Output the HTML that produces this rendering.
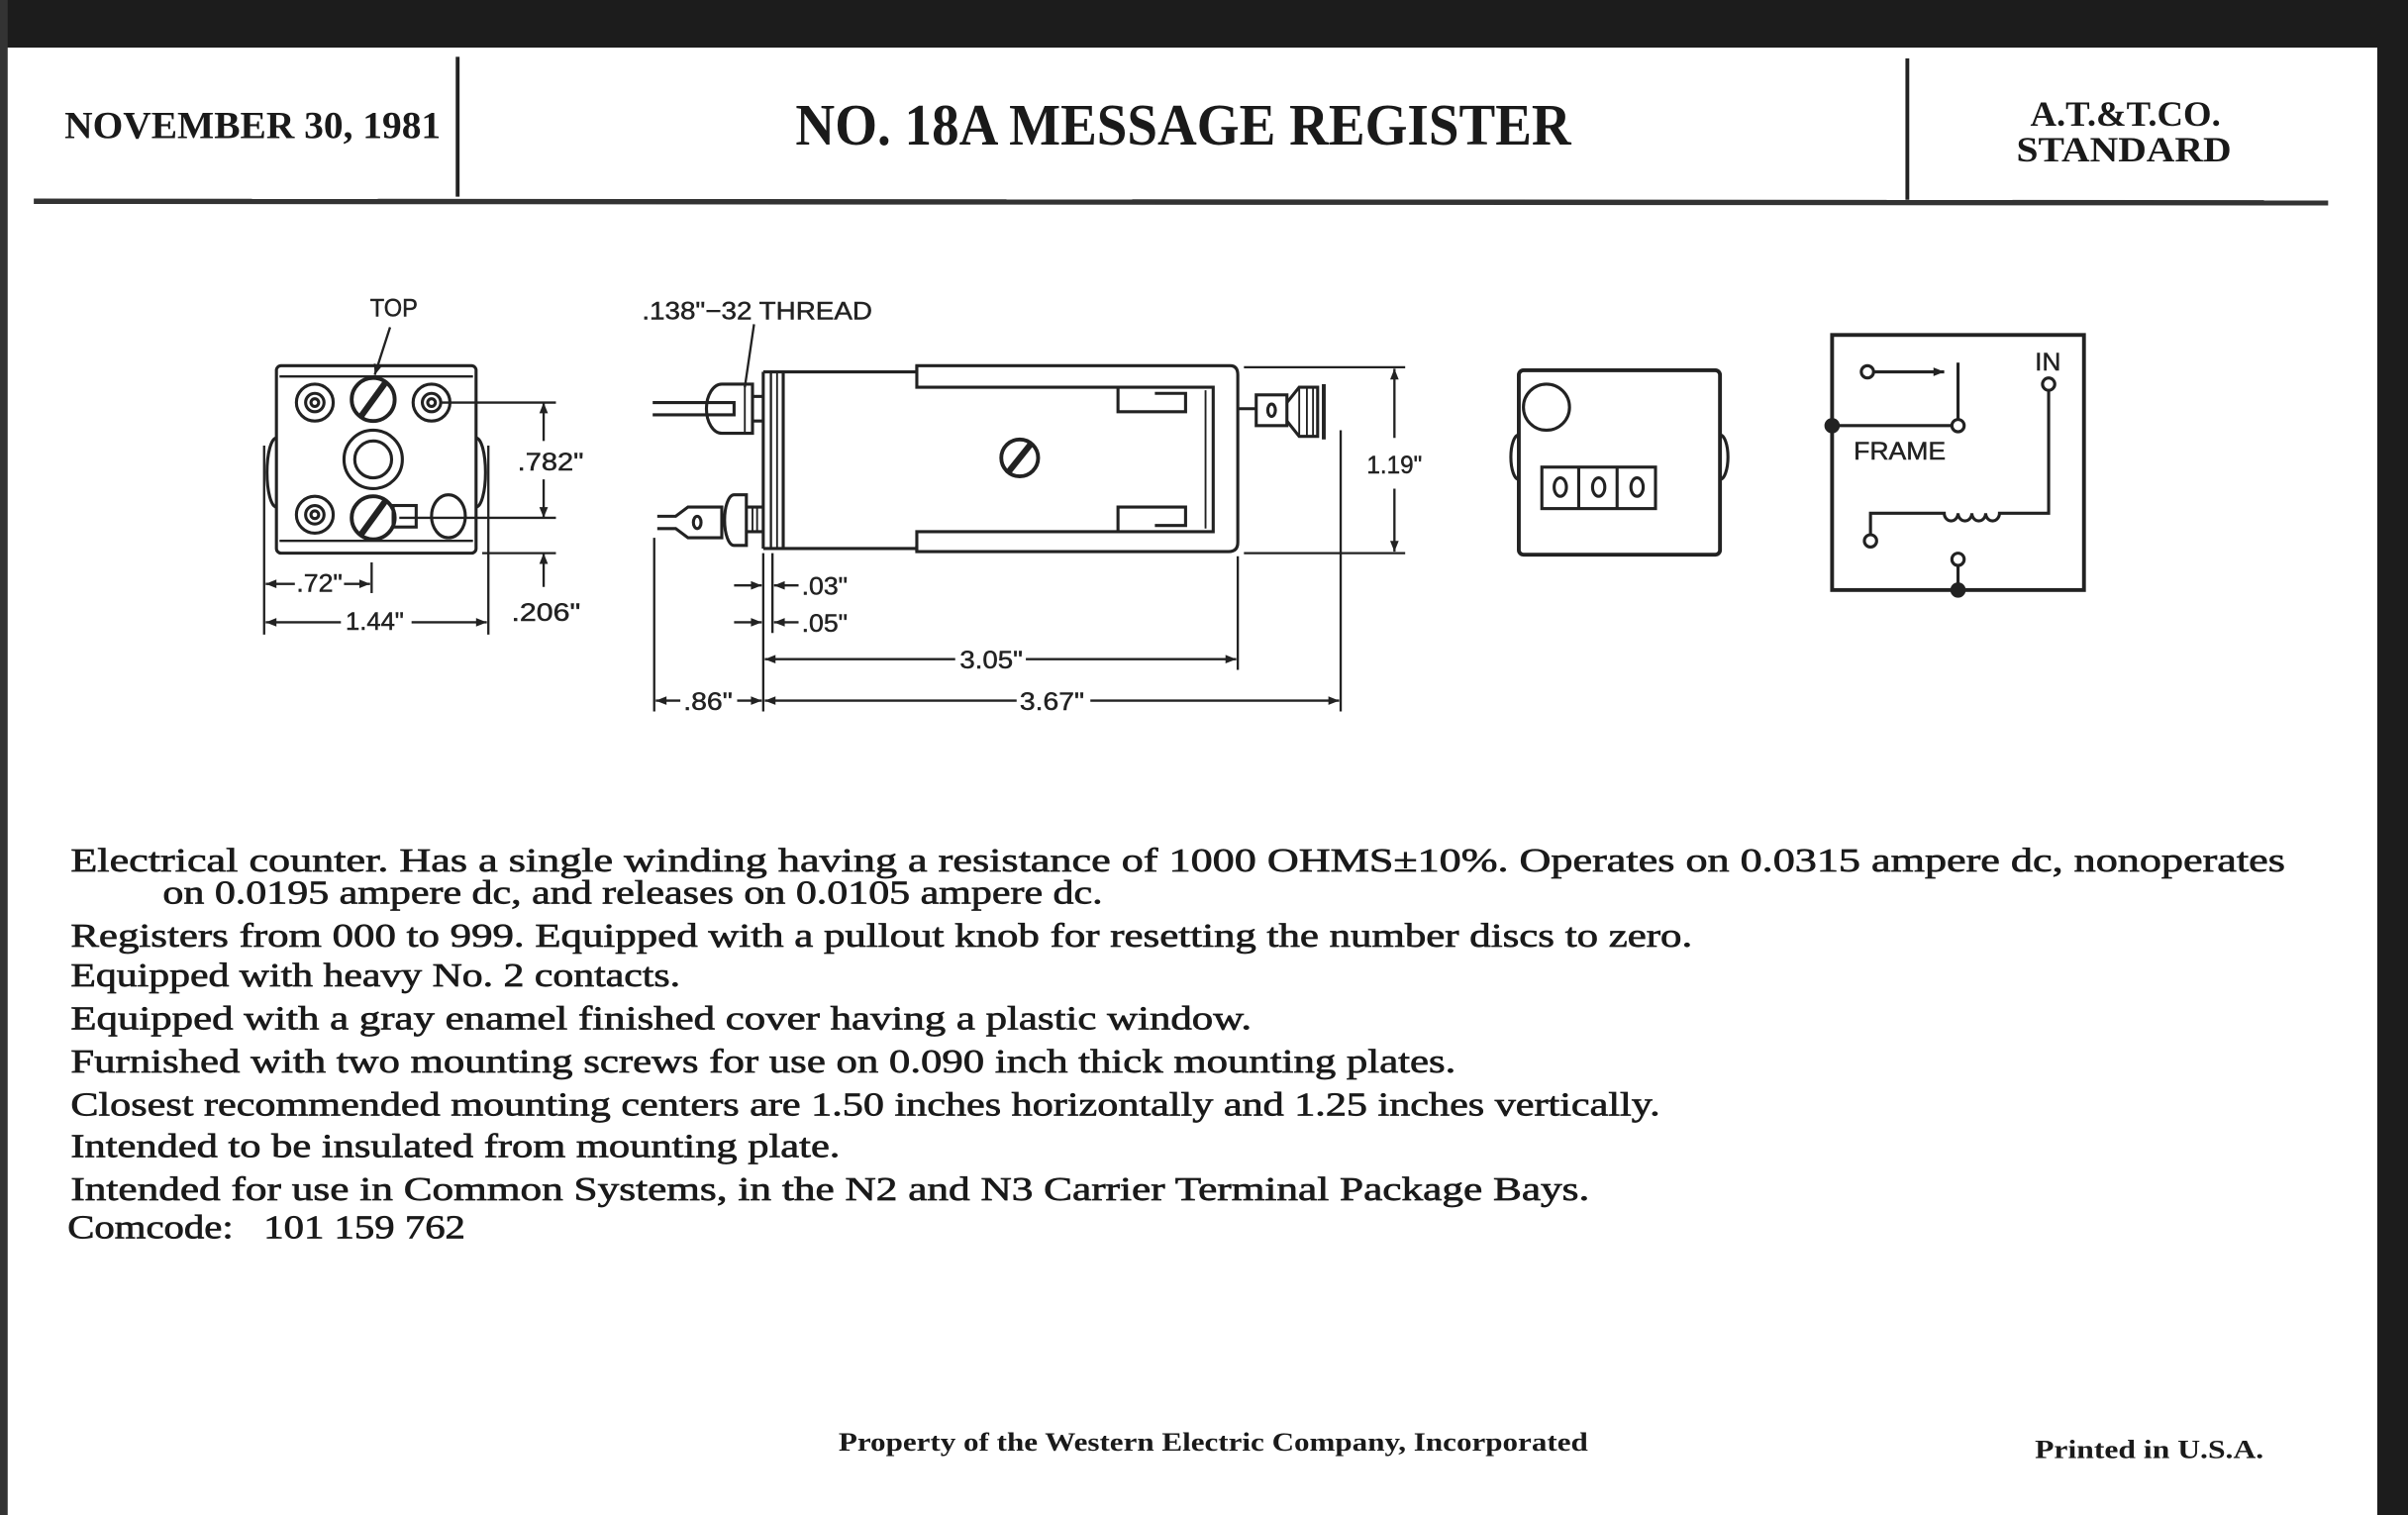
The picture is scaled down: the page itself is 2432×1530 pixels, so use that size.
<!DOCTYPE html>
<html><head><meta charset="utf-8"><style>
html,body{margin:0;padding:0;background:#fff;width:2432px;height:1530px;overflow:hidden}
svg{display:block}
.s{font-family:"Liberation Serif",serif;fill:#1a1a1a}
.b{stroke:#1a1a1a;stroke-width:0.45}
.d{font-family:"Liberation Sans",sans-serif;fill:#222;font-size:16px}
</style></head><body>
<svg width="2432" height="1530" viewBox="0 0 1568 986" preserveAspectRatio="none" xmlns="http://www.w3.org/2000/svg">
<defs>
<marker id="a" viewBox="0 0 10 10" refX="10" refY="5" markerWidth="9" markerHeight="7" orient="auto-start-reverse" markerUnits="userSpaceOnUse"><path d="M0,1 L10,5 L0,9z" fill="#222"/></marker>
</defs>
<rect width="1568" height="986" fill="#fff"/>
<rect x="0" y="0" width="1568" height="31" fill="#1c1c1c"/>
<rect x="1548" y="0" width="20" height="986" fill="#1c1c1c"/>
<rect x="0" y="0" width="5" height="986" fill="#333"/>

<text class="s" x="42" y="90" font-size="25" font-weight="bold" textLength="245" lengthAdjust="spacingAndGlyphs">NOVEMBER 30, 1981</text>
<line x1="298" y1="37" x2="298" y2="128" stroke="#222" stroke-width="2.5"/>
<text class="s" x="518" y="94" font-size="38" font-weight="bold" textLength="505" lengthAdjust="spacingAndGlyphs">NO. 18A MESSAGE REGISTER</text>
<line x1="1242" y1="38" x2="1242" y2="130" stroke="#222" stroke-width="2.5"/>
<text class="s" x="1322" y="82" font-size="23" font-weight="bold" textLength="124" lengthAdjust="spacingAndGlyphs">A.T.&amp;T.CO.</text>
<text class="s" x="1313" y="105" font-size="23" font-weight="bold" textLength="140" lengthAdjust="spacingAndGlyphs">STANDARD</text>
<line x1="22" y1="131" x2="1516" y2="132" stroke="#333" stroke-width="3.5"/>

<g stroke="#222" stroke-width="2" fill="none">
<rect x="180" y="238" width="130" height="122" rx="3"/>
<line x1="182" y1="245" x2="308" y2="245" stroke-width="1.5"/>
<line x1="182" y1="352" x2="308" y2="352" stroke-width="1.5"/>
<path d="M180,285 A6,22 0 0 0 180,330"/>
<path d="M310,285 A6,22 0 0 1 310,330"/>
<circle cx="205" cy="262" r="12"/><circle cx="205" cy="262" r="6"/><circle cx="205" cy="262" r="2.5"/>
<circle cx="281" cy="262" r="12"/><circle cx="281" cy="262" r="6"/><circle cx="281" cy="262" r="2.5"/>
<circle cx="205" cy="335" r="12"/><circle cx="205" cy="335" r="6"/><circle cx="205" cy="335" r="2.5"/>
<circle cx="243" cy="260" r="14" stroke-width="2.5"/><line x1="235" y1="271" x2="251" y2="249" stroke-width="4"/>
<circle cx="243" cy="299" r="19"/><circle cx="243" cy="299" r="12"/>
<rect x="256" y="329" width="15" height="14"/>
<circle cx="243" cy="337" r="14" stroke-width="2.5"/><line x1="235" y1="348" x2="251" y2="326" stroke-width="4"/>
<ellipse cx="292" cy="336" rx="11" ry="14"/>
<line x1="254" y1="213" x2="244" y2="244" marker-end="url(#a)" stroke-width="1.5"/>
<line x1="287" y1="262" x2="362" y2="262" stroke-width="1.5"/>
<line x1="260" y1="337" x2="362" y2="337" stroke-width="1.5"/>
<line x1="314" y1="360" x2="362" y2="360" stroke-width="1.5"/>
<line x1="354" y1="287" x2="354" y2="262" marker-end="url(#a)" stroke-width="1.5"/>
<line x1="354" y1="312" x2="354" y2="337" marker-end="url(#a)" stroke-width="1.5"/>
<line x1="354" y1="382" x2="354" y2="360" marker-end="url(#a)" stroke-width="1.5"/>
<line x1="172" y1="290" x2="172" y2="413" stroke-width="1.5"/>
<line x1="318" y1="290" x2="318" y2="413" stroke-width="1.5"/>
<line x1="242" y1="366" x2="242" y2="386" stroke-width="1.5"/>
<line x1="192" y1="380" x2="173" y2="380" marker-end="url(#a)" stroke-width="1.5"/>
<line x1="224" y1="380" x2="241" y2="380" marker-end="url(#a)" stroke-width="1.5"/>
<line x1="222" y1="405" x2="173" y2="405" marker-end="url(#a)" stroke-width="1.5"/>
<line x1="268" y1="405" x2="317" y2="405" marker-end="url(#a)" stroke-width="1.5"/>

<line x1="491" y1="211" x2="485" y2="252" stroke-width="1.5"/>
<line x1="497" y1="242" x2="497" y2="357"/><line x1="502" y1="242" x2="502" y2="357" stroke-width="1.5"/><line x1="506" y1="242" x2="506" y2="357" stroke-width="1.2"/><line x1="510" y1="242" x2="510" y2="357"/>
<line x1="497" y1="242" x2="597" y2="242"/><line x1="497" y1="357" x2="597" y2="357"/>
<path d="M597,242 V238 H801 Q806,238 806,244 V353 Q806,359 800,359 H597 V355"/>
<path d="M597,238 V252 H790 V346 H597 V359"/>
<path d="M728,252 V268 H772 V256 H752"/>
<path d="M728,346 V330 H772 V342 H752"/>
<line x1="785" y1="254" x2="785" y2="344" stroke-width="1.2"/>
<circle cx="664" cy="298" r="12" stroke-width="2.5"/><line x1="656" y1="308" x2="672" y2="288" stroke-width="4"/>
<line x1="806" y1="266" x2="818" y2="266"/>
<rect x="818" y="257" width="20" height="20"/><ellipse cx="828" cy="267" rx="2.5" ry="4"/>
<path d="M838,262 L846,252 H858 V284 H846 L838,274"/>
<line x1="846" y1="252" x2="846" y2="284" stroke-width="1.2"/><line x1="851" y1="252" x2="851" y2="284" stroke-width="1.2"/><line x1="855" y1="252" x2="855" y2="284" stroke-width="1.2"/>
<line x1="862" y1="250" x2="862" y2="286" stroke-width="2.5"/>
<path d="M425,262 H478 V270 H425"/>
<path d="M470,250 A10,16 0 0 0 470,282 H490 V250 Z"/>
<line x1="485" y1="250" x2="485" y2="282" stroke-width="1.2"/>
<line x1="490" y1="258" x2="497" y2="258"/><line x1="490" y1="274" x2="497" y2="274"/>
<path d="M428,336 H440 L448,330 H470 V350 H448 L440,344 H428"/>
<ellipse cx="454" cy="340" rx="2.5" ry="4"/>
<path d="M478,322 A6,16 0 0 0 478,355 H486 V322 Z"/>
<path d="M486,330 H497 M486,346 H497"/><line x1="490" y1="330" x2="490" y2="346" stroke-width="1.2"/><line x1="493" y1="330" x2="493" y2="346" stroke-width="1.2"/>
<line x1="810" y1="239" x2="915" y2="239" stroke-width="1.5"/>
<line x1="810" y1="360" x2="915" y2="360" stroke-width="1.5"/>
<line x1="908" y1="285" x2="908" y2="240" marker-end="url(#a)" stroke-width="1.5"/>
<line x1="908" y1="318" x2="908" y2="359" marker-end="url(#a)" stroke-width="1.5"/>
<line x1="426" y1="350" x2="426" y2="463" stroke-width="1.5"/>
<line x1="497" y1="360" x2="497" y2="463" stroke-width="1.5"/>
<line x1="503" y1="360" x2="503" y2="412" stroke-width="1.5"/>
<line x1="806" y1="362" x2="806" y2="436" stroke-width="1.5"/>
<line x1="873" y1="280" x2="873" y2="463" stroke-width="1.5"/>
<line x1="478" y1="381" x2="496" y2="381" marker-end="url(#a)" stroke-width="1.5"/>
<line x1="520" y1="381" x2="504" y2="381" marker-end="url(#a)" stroke-width="1.5"/>
<line x1="478" y1="405" x2="496" y2="405" marker-end="url(#a)" stroke-width="1.5"/>
<line x1="520" y1="405" x2="504" y2="405" marker-end="url(#a)" stroke-width="1.5"/>
<line x1="622" y1="429" x2="498" y2="429" marker-end="url(#a)" stroke-width="1.5"/>
<line x1="668" y1="429" x2="805" y2="429" marker-end="url(#a)" stroke-width="1.5"/>
<line x1="443" y1="456" x2="427" y2="456" marker-end="url(#a)" stroke-width="1.5"/>
<line x1="480" y1="456" x2="496" y2="456" marker-end="url(#a)" stroke-width="1.5"/>
<line x1="662" y1="456" x2="498" y2="456" marker-end="url(#a)" stroke-width="1.5"/>
<line x1="710" y1="456" x2="872" y2="456" marker-end="url(#a)" stroke-width="1.5"/>

<rect x="989" y="241" width="131" height="120" rx="3" stroke-width="2.5"/>
<circle cx="1007" cy="265" r="15"/>
<path d="M989,283 A5,14 0 0 0 989,312"/><path d="M1120,283 A5,14 0 0 1 1120,312"/>
<rect x="1004" y="304" width="74" height="27"/>
<line x1="1028" y1="304" x2="1028" y2="331"/><line x1="1053" y1="304" x2="1053" y2="331"/>
<ellipse cx="1016" cy="317" rx="4" ry="6"/><ellipse cx="1041" cy="317" rx="4" ry="6"/><ellipse cx="1066" cy="317" rx="4" ry="6"/>

<rect x="1193" y="218" width="164" height="166" stroke-width="2.5"/>
<circle cx="1216" cy="242" r="4"/>
<line x1="1220" y1="242" x2="1266" y2="242" marker-end="url(#a)" stroke-width="2"/>
<line x1="1275" y1="236" x2="1275" y2="273"/>
<line x1="1193" y1="277" x2="1271" y2="277"/>
<circle cx="1275" cy="277" r="4"/>
<circle cx="1334" cy="250" r="4"/>
<path d="M1334,254 V334 H1302 a4.5,5 0 0 1 -9,0 a4.5,5 0 0 1 -9,0 a4.5,5 0 0 1 -9,0 a4.5,5 0 0 1 -9,0 H1218 V348"/>
<circle cx="1218" cy="352" r="4"/>
<circle cx="1275" cy="364" r="4"/>
<line x1="1275" y1="368" x2="1275" y2="384"/>
</g>
<circle cx="1193" cy="277" r="5" fill="#222"/>
<circle cx="1275" cy="384" r="5" fill="#222"/>

<g class="d" stroke="#222" stroke-width="0.3">
<text x="241" y="206" textLength="31" lengthAdjust="spacingAndGlyphs">TOP</text>
<text x="337" y="306" textLength="43" lengthAdjust="spacingAndGlyphs">.782"</text>
<text x="333" y="404" textLength="45" lengthAdjust="spacingAndGlyphs">.206"</text>
<text x="193" y="385" textLength="30" lengthAdjust="spacingAndGlyphs">.72"</text>
<text x="225" y="410" textLength="38" lengthAdjust="spacingAndGlyphs">1.44"</text>
<text x="418" y="208" textLength="150" lengthAdjust="spacingAndGlyphs">.138"−32 THREAD</text>
<text x="890" y="308" textLength="36" lengthAdjust="spacingAndGlyphs">1.19"</text>
<text x="522" y="387" textLength="30" lengthAdjust="spacingAndGlyphs">.03"</text>
<text x="522" y="411" textLength="30" lengthAdjust="spacingAndGlyphs">.05"</text>
<text x="625" y="435" textLength="41" lengthAdjust="spacingAndGlyphs">3.05"</text>
<text x="445" y="462" textLength="32" lengthAdjust="spacingAndGlyphs">.86"</text>
<text x="664" y="462" textLength="42" lengthAdjust="spacingAndGlyphs">3.67"</text>
<text x="1207" y="299" textLength="60" lengthAdjust="spacingAndGlyphs">FRAME</text>
<text x="1325" y="241" textLength="17" lengthAdjust="spacingAndGlyphs">IN</text>
</g>

<g class="s b" font-size="22">
<text x="46" y="567" textLength="1442" lengthAdjust="spacingAndGlyphs">Electrical counter. Has a single winding having a resistance of 1000 OHMS±10%. Operates on 0.0315 ampere dc, nonoperates</text>
<text x="106" y="588" textLength="612" lengthAdjust="spacingAndGlyphs">on 0.0195 ampere dc, and releases on 0.0105 ampere dc.</text>
<text x="46" y="616" textLength="1056" lengthAdjust="spacingAndGlyphs">Registers from 000 to 999. Equipped with a pullout knob for resetting the number discs to zero.</text>
<text x="46" y="642" textLength="397" lengthAdjust="spacingAndGlyphs">Equipped with heavy No. 2 contacts.</text>
<text x="46" y="670" textLength="769" lengthAdjust="spacingAndGlyphs">Equipped with a gray enamel finished cover having a plastic window.</text>
<text x="46" y="698" textLength="902" lengthAdjust="spacingAndGlyphs">Furnished with two mounting screws for use on 0.090 inch thick mounting plates.</text>
<text x="46" y="726" textLength="1035" lengthAdjust="spacingAndGlyphs">Closest recommended mounting centers are 1.50 inches horizontally and 1.25 inches vertically.</text>
<text x="46" y="753" textLength="501" lengthAdjust="spacingAndGlyphs">Intended to be insulated from mounting plate.</text>
<text x="46" y="781" textLength="989" lengthAdjust="spacingAndGlyphs">Intended for use in Common Systems, in the N2 and N3 Carrier Terminal Package Bays.</text>
<text x="44" y="806" xml:space="preserve" textLength="259" lengthAdjust="spacingAndGlyphs">Comcode:   101 159 762</text>
</g>
<text class="s" x="546" y="944" font-size="17" font-weight="bold" textLength="488" lengthAdjust="spacingAndGlyphs">Property of the Western Electric Company, Incorporated</text>
<text class="s" x="1325" y="949" font-size="17" font-weight="bold" textLength="149" lengthAdjust="spacingAndGlyphs">Printed in U.S.A.</text>
</svg>
</body></html>
